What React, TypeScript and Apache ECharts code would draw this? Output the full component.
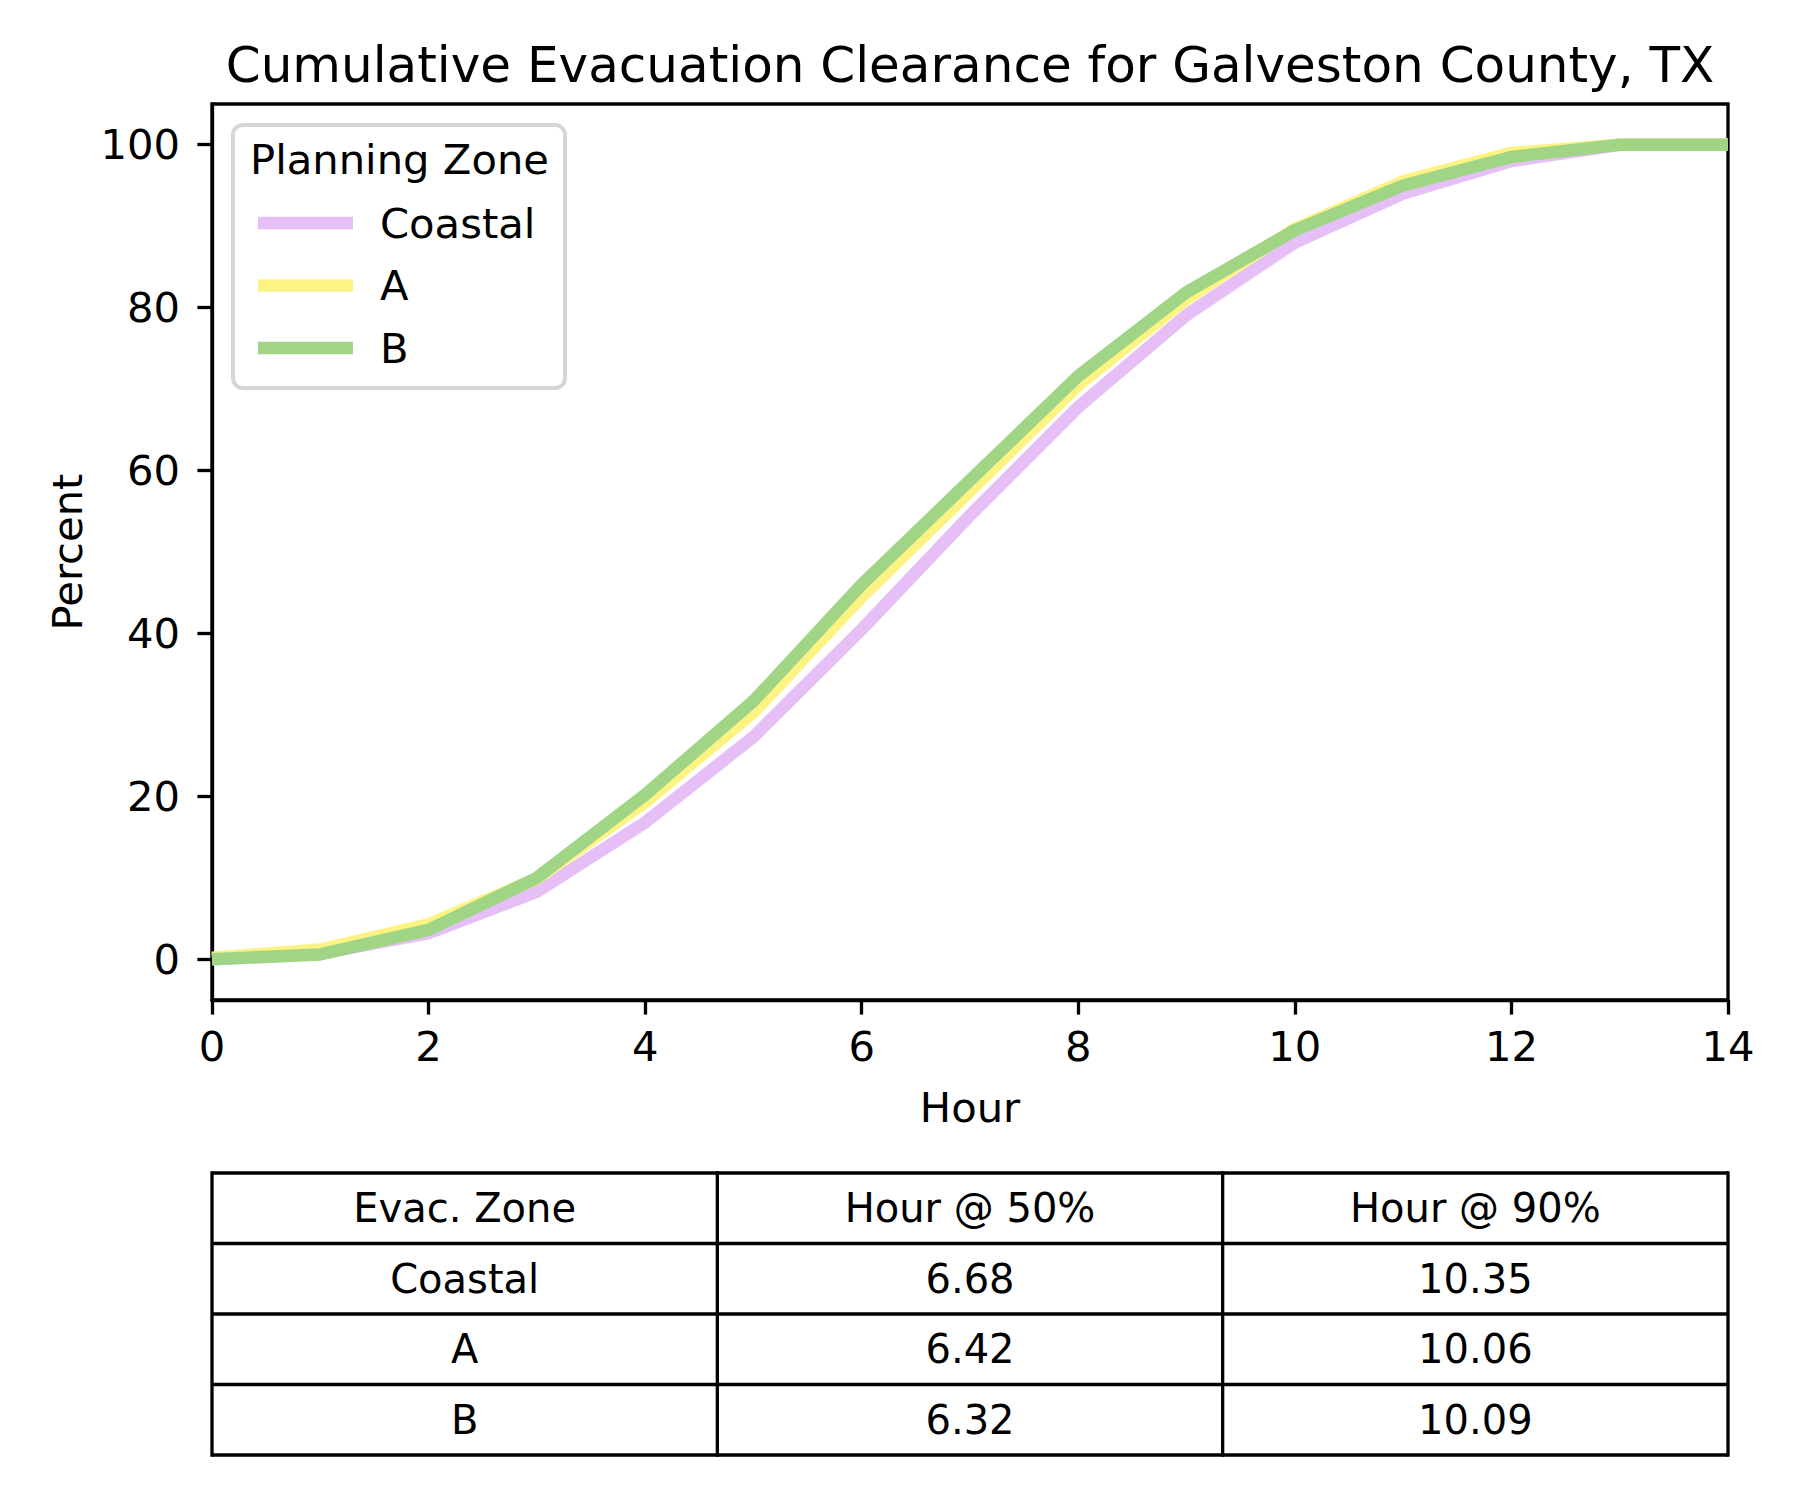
import React, { useEffect, useRef } from "react";
import * as echarts from "echarts";

const hours = [0, 1, 2, 3, 4, 5, 6, 7, 8, 9, 10, 11, 12, 13, 14];
const zoneNames = ["Coastal", "A", "B"];
const coastal = [0, 0.7, 3.2, 8.3, 16.8, 27.3, 40.5, 54.5, 67.8, 79.1, 88.0, 94.0, 98.0, 100, 100];
const zoneA = [0.2, 1.2, 4.3, 9.9, 19.3, 30.3, 44.5, 57.5, 70.5, 81.1, 89.7, 95.5, 99.0, 100, 100];
const zoneB = [0, 0.6, 3.6, 10.0, 20.2, 31.7, 46.0, 58.8, 71.6, 81.9, 89.5, 95.0, 98.5, 100, 100];
const zoneColors = ["#E6BFF7", "#FDF382", "#A1D586"];
const xTicks = [0, 2, 4, 6, 8, 10, 12, 14];
const yTicks = [0, 20, 40, 60, 80, 100];
const tableHeader = ["Evac. Zone", "Hour @ 50%", "Hour @ 90%"];
const tableZones = ["Coastal", "A", "B"];
const hour50 = ["6.68", "6.42", "6.32"];
const hour90 = ["10.35", "10.06", "10.09"];

const FONT = "DejaVu Sans";
const W = 1800;
const H = 1500;
const GL = 212;
const GT = 104;
const GR = 1728;
const GB = 1000;
const LW = 3.3;
const FS = 41.7;

export default function App() {
  const ref = useRef<HTMLDivElement>(null);
  useEffect(() => {
    if (!ref.current) return;
    const chart = echarts.init(ref.current, null, { renderer: "svg", width: W, height: H });
    const seriesValues = [coastal, zoneA, zoneB];

    const graphics: any[] = [];
    graphics.push({
      type: "text", x: (GL + GR) / 2, y: 65, z: 100,
      style: { text: "Cumulative Evacuation Clearance for Galveston County, TX", fontSize: 50, fontFamily: FONT, fill: "#000", align: "center", verticalAlign: "middle" },
    });
    graphics.push({
      type: "text", x: (GL + GR) / 2, y: 1107, z: 100,
      style: { text: "Hour", fontSize: FS, fontFamily: FONT, fill: "#000", align: "center", verticalAlign: "middle" },
    });
    graphics.push({
      type: "text", x: 67, y: (GT + GB) / 2, rotation: Math.PI / 2, z: 100,
      style: { text: "Percent", fontSize: FS, fontFamily: FONT, fill: "#000", align: "center", verticalAlign: "middle" },
    });
    graphics.push({
      type: "rect", z: 100,
      shape: { x: 233, y: 125, width: 332, height: 263, r: 10 },
      style: { fill: "rgba(255,255,255,0.8)", stroke: "#d6d6d6", lineWidth: 4 },
    });
    graphics.push({
      type: "text", x: 250, y: 159, z: 101,
      style: { text: "Planning Zone", fontSize: FS, fontFamily: FONT, fill: "#000", align: "left", verticalAlign: "middle" },
    });
    zoneNames.forEach((name, i) => {
      const y = 223 + 62.5 * i;
      graphics.push({
        type: "line", z: 101,
        shape: { x1: 258, y1: y, x2: 353, y2: y },
        style: { stroke: zoneColors[i], lineWidth: 12.5 },
      });
      graphics.push({
        type: "text", x: 380, y, z: 101,
        style: { text: name, fontSize: FS, fontFamily: FONT, fill: "#000", align: "left", verticalAlign: "middle" },
      });
    });
    const tTop = 1173;
    const rowH = 70.5;
    const colW = (GR - GL) / 3;
    const rows = [tableHeader, ...tableZones.map((z, i) => [z, hour50[i], hour90[i]])];
    for (let r = 0; r <= rows.length; r++) {
      const y = tTop + rowH * r;
      graphics.push({ type: "line", z: 100, shape: { x1: GL, y1: y, x2: GR, y2: y }, style: { stroke: "#000", lineWidth: LW } });
    }
    for (let c = 0; c <= 3; c++) {
      const x = GL + colW * c;
      graphics.push({ type: "line", z: 100, shape: { x1: x, y1: tTop - LW / 2, x2: x, y2: tTop + rowH * rows.length + LW / 2 }, style: { stroke: "#000", lineWidth: LW } });
    }
    rows.forEach((row, r) => {
      row.forEach((cell, c) => {
        graphics.push({
          type: "text", x: GL + colW * (c + 0.5), y: tTop + rowH * (r + 0.5), z: 101,
          style: { text: cell, fontSize: 40, fontFamily: FONT, fill: "#000", align: "center", verticalAlign: "middle" },
        });
      });
    });

    chart.setOption({
      animation: false,
      backgroundColor: "#fff",
      textStyle: { fontFamily: FONT },
      grid: {
        left: GL, top: GT, width: GR - GL, height: GB - GT,
        show: true, borderColor: "#000", borderWidth: LW, backgroundColor: "transparent",
      },
      xAxis: {
        type: "value", min: 0, max: 14, interval: 2,
        axisLine: { show: true, onZero: false, lineStyle: { color: "#000", width: LW } },
        axisTick: { show: true, inside: false, length: 14.6, lineStyle: { color: "#000", width: LW } },
        axisLabel: { show: true, color: "#000", fontSize: FS, fontFamily: FONT, margin: 46, verticalAlign: "middle", showMinLabel: true, showMaxLabel: true, customValues: xTicks },
        splitLine: { show: false },
      },
      yAxis: {
        type: "value", min: -5, max: 105,
        axisLine: { show: true, onZero: false, lineStyle: { color: "#000", width: LW } },
        axisTick: { show: true, inside: false, length: 14.6, lineStyle: { color: "#000", width: LW }, customValues: yTicks },
        axisLabel: { show: true, color: "#000", fontSize: FS, fontFamily: FONT, margin: 32, customValues: yTicks },
        splitLine: { show: false },
      },
      series: zoneNames.map((name, i) => ({
        name,
        type: "line",
        data: hours.map((h, k) => [h, seriesValues[i][k]]),
        symbol: "none",
        showSymbol: false,
        clip: true,
        lineStyle: { color: zoneColors[i], width: 12.5, join: "round", cap: "butt" },
        itemStyle: { color: zoneColors[i] },
        z: 2 + i,
      })),
      graphic: graphics,
    });
    return () => chart.dispose();
  }, []);
  return <div ref={ref} style={{ position: "absolute", left: 0, top: 0, width: W, height: H, background: "#fff" }} />;
}
